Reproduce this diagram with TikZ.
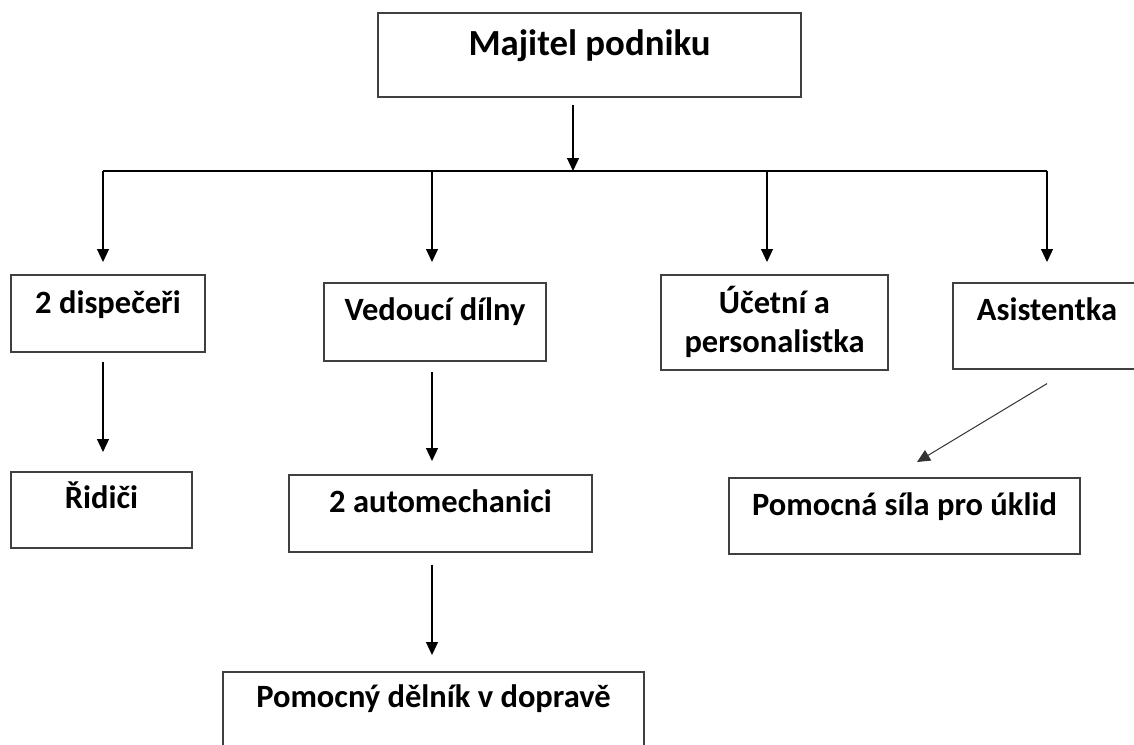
\documentclass[tikz,border=0pt]{standalone}
\usepackage{fontspec}
\setmainfont{Carlito}
\usetikzlibrary{arrows.meta}

\tikzset{
  box/.style={draw=black!75, line width=1.6pt, inner sep=0pt, anchor=north, align=center,
    font=\fontsize{32.5}{39}\selectfont\bfseries},
  arr/.style={-{Triangle[width=12pt,length=13pt]}, line width=1.2pt},
}

\begin{document}
\begin{tikzpicture}[x=1pt,y=-1pt]
  \useasboundingbox (0,0) rectangle (1134,744);
  % owner
  \node[box, minimum width=423pt, text height=43pt, text depth=41pt,
    font=\fontsize{36.8}{43}\selectfont\bfseries] (owner) at (589.5,12) {Majitel podniku};
  % second row
  \node[box, minimum width=194pt, text height=39pt, text depth=38pt] (disp) at (108,274) {2 dispečeři};
  \node[box, minimum width=222pt, text height=38pt, text depth=40pt] (head) at (435,282) {Vedoucí dílny};
  \node[box, minimum width=227pt, text height=78pt, text depth=17pt] (acct) at (774.5,274) {Účetní a\\personalistka};
  \node[box, minimum width=188pt, text height=38pt, text depth=48pt] (asst) at (1047,282) {Asistentka};
  % third row
  \node[box, minimum width=181pt, text height=37pt, text depth=39pt] (drv) at (101.5,471) {Řidiči};
  \node[box, minimum width=303pt, text height=38pt, text depth=39pt] (mech) at (440.5,474) {2 automechanici};
  \node[box, minimum width=351pt, text height=38pt, text depth=38pt] (clean) at (904.5,477) {Pomocná síla pro úklid};
  % bottom
  \node[box, minimum width=421pt, text height=36pt, text depth=44pt] (help) at (433.5,671) {Pomocný dělník v dopravě};

  % bus line
  \coordinate (bus) at (573,171);
  \coordinate (b1) at (103,171);
  \coordinate (b2) at (432,171);
  \coordinate (b3) at (767,171);
  \coordinate (b4) at (1047,171);
  \draw[arr, shorten <=7pt] (owner.south -| bus) -- (bus);
  \draw[line width=1.2pt] (b1) -- (b4);
  \draw[arr, shorten >=12pt] (b1) -- (b1 |- disp.north);
  \draw[arr, shorten >=20pt] (b2) -- (b2 |- head.north);
  \draw[arr, shorten >=12pt] (b3) -- (b3 |- acct.north);
  \draw[arr, shorten >=20pt] (b4) -- (b4 |- asst.north);

  % lower levels
  \draw[arr, shorten <=9pt, shorten >=19pt] (disp.south -| b1) -- (b1 |- drv.north);
  \draw[arr, shorten <=10pt, shorten >=13pt] (head.south -| b2) -- (b2 |- mech.north);
  \draw[arr, shorten <=12pt, shorten >=16pt] (mech.south -| b2) -- (b2 |- help.north);
  \draw[arr, line width=1pt, draw=black!80] ([yshift=-14pt]asst.south) -- ([xshift=12.5pt,yshift=15pt]clean.north);
\end{tikzpicture}
\end{document}
